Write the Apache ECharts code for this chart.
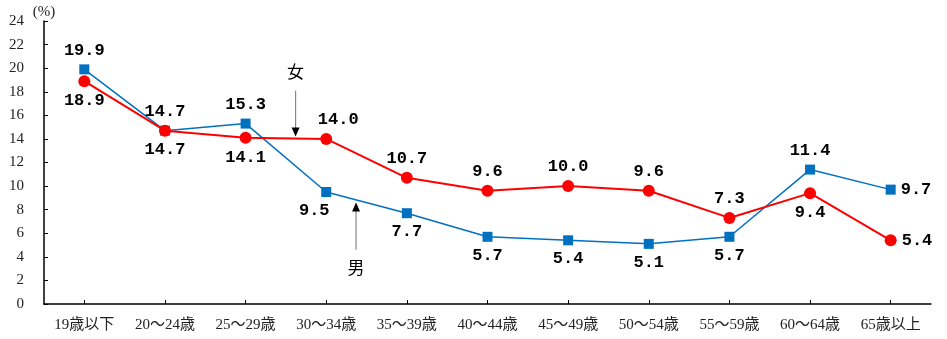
<!DOCTYPE html>
<html><head><meta charset="utf-8">
<script src="https://cdn.jsdelivr.net/npm/echarts@6/dist/echarts.min.js"></script>
<style>html,body{margin:0;padding:0;background:#fff}#c{width:947px;height:339px}</style>
</head><body><div id="c"></div>
<script>
const categories = ['19歳以下','20～24歳','25～29歳','30～34歳','35～39歳','40～44歳','45～49歳','50～54歳','55～59歳','60～64歳','65歳以上'];
const menValues = [19.9,14.7,15.3,9.5,7.7,5.7,5.4,5.1,5.7,11.4,9.7];
const womenValues = [18.9,14.7,14.1,14.0,10.7,9.6,10.0,9.6,7.3,9.4,5.4];
const menLabelPos = ['top','top','top','bottom','bottom','bottom','bottom','bottom','bottom','top','right'];
const womenLabelPos = ['bottom','bottom','bottom','top','top','top','top','top','top','bottom','right'];
const yTicks = {min:0, max:24, interval:2};

const numFont = '"Liberation Mono", monospace';
const txtFont = '"Liberation Serif", "Noto Sans CJK JP", serif';

function mkData(vals, pos, special) {
  return vals.map((v, i) => {
    const lab = {position: pos[i]};
    if (special[i]) lab.offset = special[i];
    return {value: v, label: lab};
  });
}

const chart = echarts.init(document.getElementById('c'), null, {renderer: 'canvas'});
const labelBase = {show: true, fontFamily: numFont, fontWeight: 'bold', fontSize: 17, color: '#000', distance: 5,
  formatter: p => p.value.toFixed(1)};

chart.setOption({
  animation: false,
  grid: {left: 44, right: 16, top: 21, bottom: 35},
  xAxis: {
    type: 'category', data: categories, boundaryGap: true,
    axisLine: {lineStyle: {color: '#000', width: 1.5}},
    axisTick: {show: true, inside: true, alignWithLabel: true, length: 4, lineStyle: {color: '#000'}},
    axisLabel: {fontFamily: txtFont, fontSize: 15, color: '#222', margin: 14}
  },
  yAxis: {
    type: 'value', min: yTicks.min, max: yTicks.max, interval: yTicks.interval,
    name: '(%)', nameLocation: 'end', nameGap: 1,
    nameTextStyle: {fontFamily: txtFont, fontSize: 15, color: '#222', align: 'center'},
    axisLine: {show: true, lineStyle: {color: '#000', width: 1.5}},
    axisTick: {show: true, inside: true, length: 4, lineStyle: {color: '#000'}},
    axisLabel: {fontFamily: txtFont, fontSize: 15, color: '#222', margin: 20},
    splitLine: {show: false}
  },
  series: [
    {name: '男', type: 'line', data: mkData(menValues, menLabelPos, {3: [-12, 0]}),
     symbol: 'rect', symbolSize: 10, lineStyle: {color: '#0070C0', width: 1.5},
     itemStyle: {color: '#0070C0'}, label: labelBase, z: 2},
    {name: '女', type: 'line', data: mkData(womenValues, womenLabelPos, {3: [12, 0]}),
     symbol: 'circle', symbolSize: 12, lineStyle: {color: '#FF0000', width: 2},
     itemStyle: {color: '#FF0000'}, label: labelBase, z: 3}
  ]
});

function px(xIdx, yVal) {
  const i0 = Math.floor(xIdx), f = xIdx - i0;
  const a = chart.convertToPixel({xAxisIndex: 0, yAxisIndex: 0}, [i0, yVal]);
  const b = chart.convertToPixel({xAxisIndex: 0, yAxisIndex: 0}, [i0 + 1, yVal]);
  return [a[0] + (b[0] - a[0]) * f, a[1]];
}
function arrow(x, yFrom, yTo, text, yText) {
  const p1 = px(x, yFrom), p2 = px(x, yTo), pt = px(x, yText);
  const dir = p2[1] > p1[1] ? 1 : -1;
  return [
    {type: 'line', shape: {x1: p1[0], y1: p1[1], x2: p2[0], y2: p2[1] - dir * 6}, style: {stroke: '#888', lineWidth: 1.2}},
    {type: 'polygon', shape: {points: [[p2[0], p2[1]], [p2[0] - 4, p2[1] - dir * 9], [p2[0] + 4, p2[1] - dir * 9]]}, style: {fill: '#000'}},
    {type: 'text', x: pt[0], y: pt[1], style: {text: text, fontFamily: '"Noto Sans CJK JP", sans-serif', fontSize: 17, fill: '#000', align: 'center', verticalAlign: 'middle'}}
  ];
}
chart.setOption({graphic: [
  ...arrow(2.62, 18.1, 14.2, '女', 19.7),
  ...arrow(3.37, 4.6, 8.6, '男', 3.05)
]});
</script></body></html>
